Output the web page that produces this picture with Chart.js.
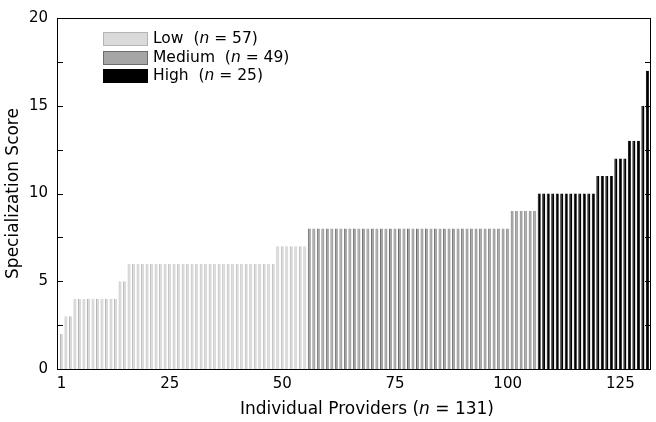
<!DOCTYPE html>
<html><head><meta charset="utf-8">
<script src="https://cdn.jsdelivr.net/npm/chart.js@4.4.1/dist/chart.umd.min.js"></script>
<style>html,body{margin:0;padding:0;background:#fff;overflow:hidden}#wrap{width:656px;height:422px}</style>
</head><body><div id="wrap"><canvas id="c" width="656" height="422"></canvas></div>
<script>
// ---- data (providers sorted by score) ----
const lowScores = [2,3,3,4,4,4,4,4,4,4,4,4,4,5,5,
  6,6,6,6,6,6,6,6,6,6,6,6,6,6,6,6,6,6,6,6,6,6,6,6,6,6,6,6,6,6,6,6,6,
  7,7,7,7,7,7,7];
const mediumScores = [8,8,8,8,8,8,8,8,8,8,8,8,8,8,8,8,8,8,8,8,8,8,8,8,8,8,8,8,8,8,
  8,8,8,8,8,8,8,8,8,8,8,8,8,8,8,9,9,9,9,9,9];
const highScores = [10,10,10,10,10,10,10,10,10,10,10,10,10,11,11,11,11,12,12,12,13,13,13,15,17];
const groupNames = ['Low', 'Medium', 'High'];
const groupCounts = [57, 49, 25];
const xTickValues = [1, 25, 50, 75, 100, 125];
const yTickLabels = [0, 5, 10, 15, 20];
const xTitleParts = ['Individual Providers (', 'n', ' = 131)'];
const yTitle = 'Specialization Score';

const groupFill = ['#dadada', '#a6a6a6', '#000000'];
const groupEdge = ['#b4b4b4', '#6c6c6c', '#000000'];

let idx = 0;
function toPoints(arr){ return arr.map(v => ({x: ++idx, y: v})); }
const lowPts = toPoints(lowScores), medPts = toPoints(mediumScores), highPts = toPoints(highScores);

const FONT = "'DejaVu Sans', sans-serif";

function drawRich(ctx, parts, x, y, size){
  // parts alternate normal / italic
  let w = 0;
  parts.forEach((s, k) => { ctx.font = (k % 2 ? 'italic ' : 'normal ') + size + 'px ' + FONT; w += ctx.measureText(s).width; });
  return w;
}

const framePlugin = {
  id: 'frame',
  afterDraw(chart){
    const {ctx, chartArea: a, scales: {y}} = chart;
    ctx.save();
    ctx.strokeStyle = '#000'; ctx.lineWidth = 1;
    ctx.strokeRect(a.left + 0.5, a.top + 0.5, a.right - a.left - 1, a.bottom - a.top);
    y.ticks.forEach(t => {
      const py = Math.round(y.getPixelForValue(t.value)) + 0.5;
      ctx.beginPath();
      ctx.moveTo(a.left, py); ctx.lineTo(a.left + 6, py);
      ctx.moveTo(a.right, py); ctx.lineTo(a.right - 6, py);
      ctx.stroke();
    });
    // legend
    const fs = 15.5;
    ctx.textBaseline = 'middle';
    chart.data.datasets.forEach((ds, i) => {
      const cy = 39 + i * 18.5;
      const bx = 103, bw = 45, bh = 14;
      ctx.fillStyle = ds.backgroundColor;
      ctx.fillRect(bx, Math.round(cy - bh/2), bw, bh);
      ctx.strokeStyle = groupEdge[i]; ctx.lineWidth = 1;
      ctx.strokeRect(bx + 0.5, Math.round(cy - bh/2) + 0.5, bw - 1, bh - 1);
      ctx.fillStyle = '#000';
      let tx = 153;
      [groupNames[i] + '  (', 'n', ' = ' + groupCounts[i] + ')'].forEach((s, k) => {
        ctx.font = (k % 2 ? 'italic ' : 'normal ') + fs + 'px ' + FONT;
        ctx.fillText(s, tx, cy);
        tx += ctx.measureText(s).width;
      });
    });
    // x axis title (with italic n)
    const ts = 17;
    const w = drawRich(ctx, xTitleParts, 0, 0, ts);
    let tx = 367 - w / 2;
    ctx.fillStyle = '#000';
    xTitleParts.forEach((s, k) => {
      ctx.font = (k % 2 ? 'italic ' : 'normal ') + ts + 'px ' + FONT;
      ctx.fillText(s, tx, 410);
      tx += ctx.measureText(s).width;
    });
    ctx.restore();
  }
};

function ds(i, pts){
  return {label: groupNames[i], data: pts, backgroundColor: groupFill[i], borderColor: groupEdge[i],
    borderWidth: {left: 1, right: 0, top: 0, bottom: 0}, borderSkipped: false,
    grouped: false, categoryPercentage: 1, barPercentage: 0.68};
}

new Chart(document.getElementById('c'), {
  type: 'bar',
  data: {datasets: [ds(0, lowPts), ds(1, medPts), ds(2, highPts)]},
  options: {
    responsive: false, animation: false, devicePixelRatio: 1,
    layout: {padding: {left: 0, right: 5, top: 8, bottom: 0}},
    plugins: {legend: {display: false}, tooltip: {enabled: false}},
    scales: {
      x: {
        type: 'linear', min: 0, max: 131.8, offset: false,
        grid: {display: false, drawTicks: false},
        border: {display: false},
        ticks: {color: '#000', font: {family: FONT, size: 15}, padding: 6, maxRotation: 0, autoSkip: false},
        afterBuildTicks: s => { s.ticks = xTickValues.map(v => ({value: v})); },
        afterFit: s => { s.height = 53; },
        title: {display: false}
      },
      y: {
        min: 0, max: 20,
        grid: {display: false, drawTicks: false},
        border: {display: false},
        ticks: {stepSize: 2.5, color: '#000', font: {family: FONT, size: 15}, padding: 9,
          callback: v => (yTickLabels.includes(v) ? String(v) : '')},
        afterFit: s => { s.width = 57; },
        title: {display: true, text: yTitle, color: '#000', font: {family: FONT, size: 17}, padding: {top: 3, bottom: 0}}
      }
    }
  },
  plugins: [framePlugin]
});
</script>
</body></html>
